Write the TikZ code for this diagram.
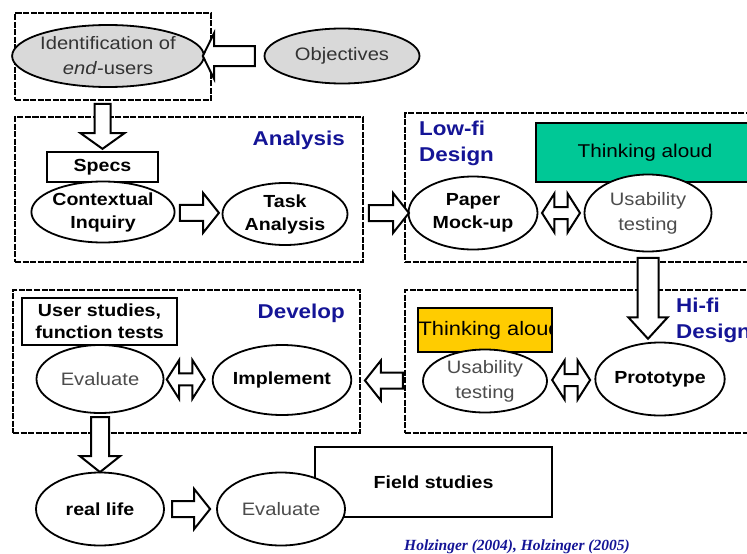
\documentclass[tikz,border=0pt]{standalone}
\usepackage{fontspec}
\setmainfont{Liberation Sans}[FakeStretch=1.12]
\newfontfamily\citefont{Liberation Serif}
\usetikzlibrary{shapes.geometric,shapes.arrows,calc,positioning}
\definecolor{titleblue}{RGB}{20,20,150}
\definecolor{thinkgreen}{RGB}{0,200,150}
\definecolor{thinkyellow}{RGB}{255,204,0}
\definecolor{ovalgray}{RGB}{217,217,217}
\tikzset{
phase/.style={
  draw,
  dash pattern=on 6pt off 1.5pt,
  line width=1.8pt,
  inner sep=0pt
  },
oval/.style={
  ellipse,
  draw,
  line width=1.8pt,
  fill=white,
  inner sep=0pt,
  align=center,
  font=\fontsize{18}{25}\selectfont
  },
boldoval/.style={
  oval,
  font=\fontsize{17.5}{23}\selectfont\bfseries
  },
tag/.style={
  draw,
  line width=1.8pt,
  fill=white,
  inner sep=0pt,
  align=center,
  font=\fontsize{17.5}{22}\selectfont\bfseries
  },
stage/.style={
  text=titleblue,
  inner sep=0pt,
  align=left,
  font=\fontsize{20}{26}\selectfont\bfseries
  },
blk/.style={
  single arrow,
  draw,
  fill=white,
  line width=2pt,
  inner sep=7pt,
  minimum width=0pt,
  single arrow head extend=12pt,
  single arrow tip angle=103
  },
dblk/.style={
  double arrow,
  draw,
  fill=white,
  line width=2pt,
  inner sep=5pt,
  minimum height=38pt,
  minimum width=0pt,
  double arrow head extend=13.5pt,
  double arrow tip angle=115
  }
}
\begin{document}
\begin{tikzpicture}[x=1pt, y=-1pt]
\useasboundingbox (0,0) rectangle (747,554);

\node[phase, minimum width=196pt, minimum height=87pt] (idframe) at (113,56.5) {};
\node[phase, minimum width=348pt, minimum height=145pt] (anaframe) at (189,189.5) {};
\node[phase, minimum width=365pt, minimum height=149pt] (loframe) at (587.5,187.5) {};
\node[phase, minimum width=347pt, minimum height=143pt] (devframe) at (186.5,361.5) {};
\node[phase, minimum width=365pt, minimum height=143pt] (hiframe) at (587.5,361.5) {};

\node[oval, fill=ovalgray, text=black!80, minimum width=187pt, minimum height=62pt]
  (ident) at (108,56) {Identification of\\\textit{end}-users};
\node[oval, fill=ovalgray, text=black!80, minimum width=155pt, minimum height=55pt]
  (obj) at (342,56) {Objectives};

\node[tag, minimum width=111pt, minimum height=30pt] (specs) at (102.5,167) {Specs};
\node[boldoval, minimum width=128pt, minimum height=61pt] (ctx) at (103,212) {Contextual\\Inquiry};
\node[boldoval, minimum width=125pt, minimum height=62pt] (task) at (285,214) {Task\\Analysis};
\node[stage, anchor=east] (analysis) at (345,140) {Analysis};

\node[draw, line width=1.2pt, fill=thinkgreen, minimum width=218pt, minimum height=59pt,
  font=\fontsize{18.5}{22}\selectfont] (think1) at (645,152.5) {Thinking aloud};
\node[stage, anchor=west] (lowfi) at (419,143) {Low-fi\\Design};
\node[boldoval, minimum width=129pt, minimum height=73pt] (paper) at (473,213) {Paper\\Mock-up};
\node[oval, text=black!70, minimum width=127pt, minimum height=77pt] (usab1) at (648,213) {Usability\\testing};

\node[tag, minimum width=155pt, minimum height=47pt] (studies) at (99.5,321.5) {User studies,\\function tests};
\node[stage, anchor=east] (develop) at (345,313) {Develop};
\node[oval, text=black!70, minimum width=127pt, minimum height=68pt] (eval1) at (100,379) {Evaluate};
\node[boldoval, minimum width=120pt, minimum height=70pt] (impl) at (282,380) {Implement};

\node[draw, line width=1.2pt, fill=thinkyellow, minimum width=134pt, minimum height=44pt] (think2) at (485,330) {};
\begin{scope}
\clip (think2.south west) rectangle (think2.north east);
\node[anchor=west, inner sep=0pt, font=\fontsize{19.5}{22}\selectfont] (think2text) at ($(think2.west)+(1,0)$) {Thinking aloud};
\end{scope}
\node[stage, anchor=west] (hifi) at (676,320) {Hi-fi\\Design};
\node[oval, text=black!70, minimum width=124pt, minimum height=63pt] (usab2) at (485,381) {Usability\\testing};
\node[boldoval, minimum width=126pt, minimum height=73pt] (proto) at (660,379) {Prototype};

\node[draw, line width=2.2pt, minimum width=237pt, minimum height=70pt,
  font=\fontsize{17.5}{22}\selectfont\bfseries] (field) at (433.5,482) {Field studies};
\node[boldoval, minimum width=128pt, minimum height=73pt] (real) at (100,509) {real life};
\node[oval, text=black!70, minimum width=128pt, minimum height=73pt] (eval2) at (281,509) {Evaluate};

\node[text=titleblue, inner sep=0pt, font=\citefont\fontsize{15.5}{18}\selectfont\bfseries\itshape]
  (cite) at (517,547) {Holzinger (2004), Holzinger (2005)};

\node[blk, shape border rotate=180, minimum height=52pt, inner sep=9pt,
  single arrow head extend=13pt, single arrow tip angle=127]
  (objarrow) at ($(ident.east)!.45!(obj.west)$) {};
\node[blk, shape border rotate=270, minimum height=45pt, inner sep=7pt,
  single arrow head extend=14pt, single arrow tip angle=109]
  (downarrow1) at ($(idframe.south -| specs.north)!.45!(specs.north)$) {};
\node[blk, minimum height=39pt] (ctxarrow) at ($(ctx.east)!.45!(task.west)$) {};
\node[blk, minimum height=40pt] (anaarrow) at ($(anaframe.east |- paper.west)!.5!(paper.west)$) {};
\node[dblk] (paperarrow) at ($(paper.east)!.5!(usab1.west)$) {};
\node[blk, shape border rotate=270, minimum height=81pt, inner sep=9.5pt,
  single arrow head extend=9pt, single arrow tip angle=85]
  (downarrow2) at ($(usab1.south)!.45!(usab1.south |- proto.north)$) {};
\node[dblk] (protoarrow) at ($(usab2.east)!.5!(proto.west)$) {};
\node[blk, shape border rotate=180, minimum height=38pt] (hiarrow) at ($(impl.east)!.5!(usab2.west)$) {};
\node[dblk] (implarrow) at ($(eval1.east)!.45!(impl.west)$) {};
\node[blk, shape border rotate=270, minimum height=55pt, inner sep=8pt,
  single arrow head extend=11pt, single arrow tip angle=103]
  (downarrow3) at ($(eval1.south)!.47!(real.north)$) {};
\node[blk, minimum height=38pt] (realarrow) at ($(real.east)!.45!(eval2.west)$) {};
\end{tikzpicture}
\end{document}
